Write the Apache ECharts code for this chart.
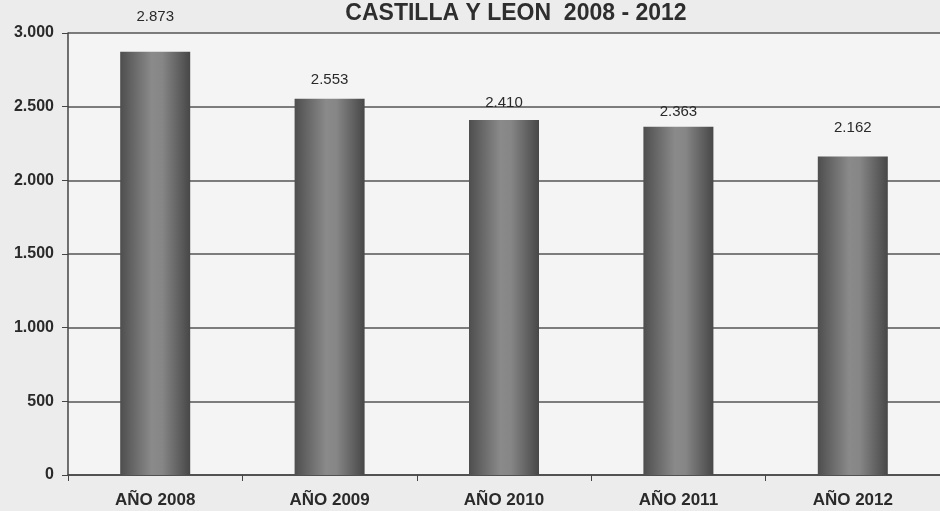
<!DOCTYPE html>
<html><head><meta charset="utf-8">
<script src="https://cdn.jsdelivr.net/npm/echarts@6/dist/echarts.min.js"></script>
<style>html,body{margin:0;padding:0;background:#ececec;}#c{width:940px;height:511px;}</style>
</head><body><div id="c"></div>
<script>
const categories = ['AÑO 2008','AÑO 2009','AÑO 2010','AÑO 2011','AÑO 2012'];
const values = [2873, 2553, 2410, 2363, 2162];
const yTicks = [0, 500, 1000, 1500, 2000, 2500, 3000];
const titleText = 'CASTILLA Y LEON  2008 - 2012';

function fmt(v){ return String(v).replace(/\B(?=(\d{3})+(?!\d))/g, '.'); }
const labelGaps = [27, 11, 10, 7, 21];

const chart = echarts.init(document.getElementById('c'));
const barColor = new echarts.graphic.LinearGradient(0,0,1,0,[
  {offset:0,color:'#4e4e4e'},{offset:0.45,color:'#8a8a8a'},{offset:0.6,color:'#868686'},{offset:1,color:'#474747'}]);
chart.setOption({
  backgroundColor:'#ececec',
  animation:false,
  title:{text:titleText,left:511,top:-3,textAlign:'center',textStyle:{fontFamily:'Liberation Sans',fontWeight:'bold',fontSize:23,color:'#2e2e2e'}},
  grid:{left:68,top:33,right:-10,bottom:36,show:true,backgroundColor:'#f4f4f4',borderWidth:0},
  xAxis:{type:'category',data:categories,
    axisLine:{lineStyle:{color:'#444',width:1.5}},
    axisTick:{show:true,length:6,lineStyle:{color:'#444'}},
    axisLabel:{fontFamily:'Liberation Sans',fontWeight:'bold',fontSize:17,color:'#2a2a2a',margin:17}},
  yAxis:{type:'value',min:0,max:3000,interval:500,
    axisLine:{show:true,lineStyle:{color:'#444',width:1.5}},
    axisTick:{show:true,length:6,lineStyle:{color:'#444'}},
    splitLine:{lineStyle:{color:'#555',width:1.5}},
    axisLabel:{formatter:fmt,fontFamily:'Liberation Sans',fontWeight:'bold',fontSize:16,color:'#2a2a2a',margin:14}},
  series:[{type:'bar',barWidth:70,
    data:values.map((v,i)=>({value:v,label:{distance:labelGaps[i]}})),
    itemStyle:{color:barColor},
    label:{show:true,position:'top',formatter:p=>fmt(p.value),fontFamily:'Liberation Sans',fontSize:15,color:'#2a2a2a'}}]
});
</script></body></html>
